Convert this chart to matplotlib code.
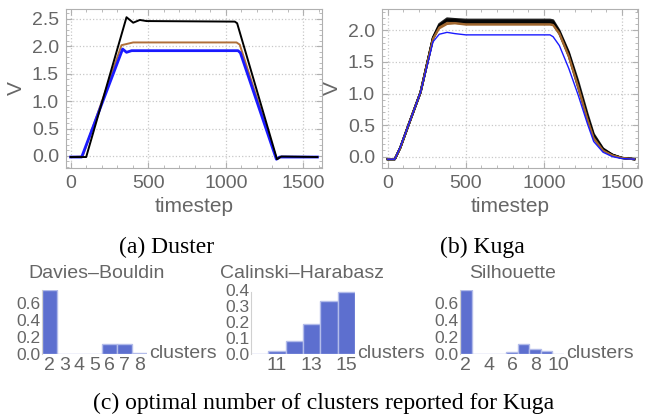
import numpy as np
import matplotlib
matplotlib.use('Agg')
import matplotlib.pyplot as plt
from matplotlib.ticker import MultipleLocator

# ---- data ----
# (a) Duster
duster_black_t = [0, 100, 360, 403, 446, 489, 1058, 1073, 1330, 1358, 1590]
duster_black_v = [-0.02, -0.02, 2.53, 2.43, 2.48, 2.46, 2.45, 2.42, -0.06, -0.01, -0.02]
duster_brown_t = [0, 77, 328, 403, 1069, 1090, 1326, 1345, 1590]
duster_brown_v = [-0.02, -0.01, 2.02, 2.07, 2.07, 2.03, -0.05, -0.02, -0.02]
duster_blue_t = [0, 71, 335, 360, 393, 1079, 1094, 1326, 1348, 1590]
duster_blue_v = [-0.02, -0.02, 1.95, 1.89, 1.92, 1.92, 1.88, -0.06, -0.02, -0.02]

# (b) Kuga
kuga_t = [0, 45, 80, 140, 210, 290, 330, 380, 430, 500, 1040, 1060, 1100,
          1160, 1220, 1280, 1320, 1380, 1440, 1500, 1580]
kuga_blue = [-0.04, -0.04, 0.15, 0.55, 1.02, 1.82, 1.94, 1.97, 1.95, 1.93, 1.93,
             1.90, 1.76, 1.40, 0.98, 0.52, 0.24, 0.07, 0.0, -0.03, -0.04]
kuga_brown = [
    [-0.04, -0.04, 0.14, 0.55, 1.02, 1.86, 2.03, 2.10, 2.11, 2.09, 2.09,
     2.08, 1.94, 1.58, 1.10, 0.58, 0.28, 0.09, 0.02, -0.02, -0.04],
    [-0.04, -0.04, 0.14, 0.55, 1.02, 1.87, 2.05, 2.12, 2.12, 2.10, 2.10,
     2.09, 1.96, 1.60, 1.12, 0.60, 0.30, 0.10, 0.02, -0.02, -0.04],
]
kuga_black = [
    [-0.04, -0.04, 0.14, 0.55, 1.02, 1.88, 2.08, 2.17, 2.17, 2.15, 2.15,
     2.14, 1.98, 1.64, 1.16, 0.64, 0.34, 0.12, 0.03, -0.02, -0.04],
    [-0.04, -0.04, 0.14, 0.55, 1.02, 1.89, 2.10, 2.19, 2.18, 2.17, 2.17,
     2.16, 2.00, 1.66, 1.20, 0.68, 0.36, 0.13, 0.03, -0.02, -0.04],
    [-0.04, -0.04, 0.14, 0.55, 1.02, 1.87, 2.06, 2.15, 2.15, 2.13, 2.13,
     2.12, 1.97, 1.62, 1.14, 0.62, 0.32, 0.11, 0.03, -0.02, -0.04],
    [-0.04, -0.04, 0.14, 0.55, 1.02, 1.88, 2.07, 2.16, 2.14, 2.12, 2.12,
     2.11, 1.95, 1.60, 1.10, 0.60, 0.31, 0.11, 0.02, -0.02, -0.04],
]

# (c) optimal number of clusters
db_k = [2, 3, 4, 5, 6, 7, 8]
db_p = [0.755, 0.005, 0.0, 0.0, 0.115, 0.118, 0.007]
ch_k = [10, 11, 12, 13, 14, 15]
ch_p = [0.002, 0.018, 0.082, 0.186, 0.332, 0.388]
sil_k = [2, 3, 4, 5, 6, 7, 8, 9, 10]
sil_p = [0.76, 0.0, 0.0, 0.0, 0.025, 0.12, 0.065, 0.037, 0.004]

W, H = 650, 418
gray = '#666666'
frame = '#b0b0b0'
grid_c = '#c8c8c8'
bar_face = '#5d6fcf'
bar_edge = '#b3bcea'

fig = plt.figure(figsize=(W / 100, H / 100), dpi=100)
plt.rcParams['font.family'] = ['Liberation Sans', 'DejaVu Sans']


def ax_px(x0, y0, x1, y1):
    # axes placed by pixel box (left, top, right, bottom)
    return fig.add_axes([x0 / W, 1 - y1 / H, (x1 - x0) / W, (y1 - y0) / H])


def style_line_axes(ax):
    for s in ax.spines.values():
        s.set_color(frame)
        s.set_linewidth(0.8)
    ax.tick_params(which='both', colors=frame, labelcolor=gray, labelsize=14,
                   direction='in', top=True, right=True)
    ax.tick_params(which='major', length=4, pad=5)
    ax.tick_params(which='minor', length=2)
    ax.xaxis.set_major_locator(MultipleLocator(500))
    ax.xaxis.set_minor_locator(MultipleLocator(100))
    ax.yaxis.set_major_locator(MultipleLocator(0.5))
    ax.yaxis.set_minor_locator(MultipleLocator(0.1))
    ax.yaxis.set_major_formatter(matplotlib.ticker.FormatStrFormatter('%.1f'))
    ax.grid(True, which='major', color=grid_c, linestyle=':', linewidth=0.9)
    ax.set_xlabel('timestep', color=gray, fontsize=15, labelpad=4)
    ax.set_ylabel('V', color=gray, fontsize=15, labelpad=4)


# (a) Duster
ax1 = ax_px(66, 9, 322, 168)
ax1.plot(duster_brown_t, duster_brown_v, color='#b0703a', lw=1.4)
ax1.plot(duster_blue_t, duster_blue_v, color='#1a1aff', lw=2.0)
ax1.plot(duster_black_t, duster_black_v, color='black', lw=1.4)
ax1.set_xlim(-30, 1620)
ax1.set_ylim(-0.22, 2.68)
style_line_axes(ax1)

# (b) Kuga
ax2 = ax_px(382, 9, 638, 168)
for v in kuga_black:
    ax2.plot(kuga_t, v, color='black', lw=1.6, alpha=0.85)
for v in kuga_brown:
    ax2.plot(kuga_t, v, color='#a0662e', lw=1.3)
ax2.plot(kuga_t, kuga_blue, color='#1a1aff', lw=1.0)
ax2.set_xlim(-37, 1604)
ax2.set_ylim(-0.18, 2.34)
style_line_axes(ax2)

fig.text(167 / W, 1 - 247 / H, '(a) Duster', ha='center', va='center',
         family='Liberation Serif', fontsize=17)
fig.text(482 / W, 1 - 247 / H, '(b) Kuga', ha='center', va='center',
         family='Liberation Serif', fontsize=17)


def bar_axes(box, k, p, ymax, yticks, xticks, title, title_x):
    ax = ax_px(*box)
    ax.bar(k, p, width=1.0, color=bar_face, edgecolor=bar_edge, linewidth=1.0)
    ax.set_xlim(k[0] - 0.5, k[-1] + 0.5)
    ax.set_ylim(0, ymax)
    for s in ['top', 'right']:
        ax.spines[s].set_visible(False)
    ax.spines['bottom'].set_visible(False)
    ax.spines['left'].set_color('#d0d0d0')
    ax.spines['left'].set_bounds(0, max(p))
    ax.set_yticks(yticks)
    ax.set_yticklabels(['%.1f' % y for y in yticks])
    ax.set_xticks(xticks)
    ax.tick_params(length=0, labelcolor=gray, labelsize=12.5, pad=1)
    ax.tick_params(axis='x', labelsize=14, pad=2)
    ax.set_xlabel('clusters', color=gray, fontsize=14)
    ax.xaxis.set_label_coords(1.02, 0.0, transform=ax.transAxes)
    ax.xaxis.label.set_horizontalalignment('left')
    ax.xaxis.label.set_verticalalignment('center')
    fig.text(title_x / W, 1 - 273 / H, title, ha='center', va='center',
             color=gray, fontsize=14)
    return ax


bar_axes((42, 290, 147, 354), db_k, db_p, 0.755, [0.0, 0.2, 0.4, 0.6],
         db_k, 'Davies\u2013Bouldin', 97)
bar_axes((251, 290, 355, 354), ch_k, ch_p, 0.40, [0.0, 0.1, 0.2, 0.3, 0.4],
         [11, 13, 15], 'Calinski\u2013Harabasz', 302)
bar_axes((460, 290, 564, 354), sil_k, sil_p, 0.76, [0.0, 0.2, 0.4, 0.6],
         [2, 4, 6, 8, 10], 'Silhouette', 513)

fig.text(324 / W, 1 - 403 / H, '(c) optimal number of clusters reported for Kuga',
         ha='center', va='center', family='Liberation Serif', fontsize=17)

fig.savefig('out.png', dpi=100)
